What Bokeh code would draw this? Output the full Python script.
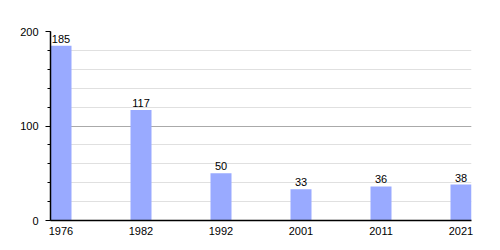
from bokeh.plotting import figure
from bokeh.models import Range1d, FixedTicker, ColumnDataSource
from bokeh.core.properties import value
from bokeh.embed import file_html
from bokeh.resources import INLINE

years = ["1976", "1982", "1992", "2001", "2011", "2021"]
population = [185, 117, 50, 33, 36, 38]
y_ticks = [0, 100, 200]

idx = list(range(len(years)))
bar_w = 0.2625
src = ColumnDataSource(dict(x=idx, top=population, label=[str(v) for v in population]))

p = figure(width=500, height=250, output_backend="svg", toolbar_location=None,
           x_range=Range1d(-bar_w / 2, len(years) - 1 + bar_w / 2),
           y_range=Range1d(0, 200),
           min_border_left=50, min_border_right=29, min_border_top=31, min_border_bottom=30)
p.outline_line_color = None
p.background_fill_color = "white"

p.vbar(x="x", top="top", width=bar_w, source=src, fill_color="#99aaff", line_color=None)
p.text(x="x", y="top", text="label", source=src, text_align="center", text_baseline="bottom",
       y_offset=-3, text_font=value("Liberation Sans"), text_font_size="11px", text_color="#000000")

p.xgrid.grid_line_color = None
p.ygrid.grid_line_color = "#aaaaaa"
p.ygrid.minor_grid_line_color = "#e0e0e0"

p.xaxis.ticker = FixedTicker(ticks=idx)
p.xaxis.major_label_overrides = {i: y for i, y in enumerate(years)}
p.xaxis.major_tick_line_color = None
p.xaxis.minor_tick_line_color = None
p.xaxis.axis_line_color = "black"
p.xaxis.axis_line_width = 1.5
p.xaxis.major_label_standoff = 0

p.yaxis.ticker = FixedTicker(ticks=y_ticks, minor_ticks=list(range(0, 201, 20)))
p.yaxis.major_tick_out = 5
p.yaxis.major_tick_in = 0
p.yaxis.minor_tick_out = 3
p.yaxis.minor_tick_in = 0
p.yaxis.axis_line_color = "black"
p.yaxis.axis_line_width = 1.5
p.yaxis.major_label_standoff = 7

for ax in (p.xaxis[0], p.yaxis[0]):
    ax.major_label_text_font = "Liberation Sans"
    ax.major_label_text_font_size = "11px"
    ax.major_label_text_color = "#000000"

open("out.html", "w").write(file_html(p, INLINE))
